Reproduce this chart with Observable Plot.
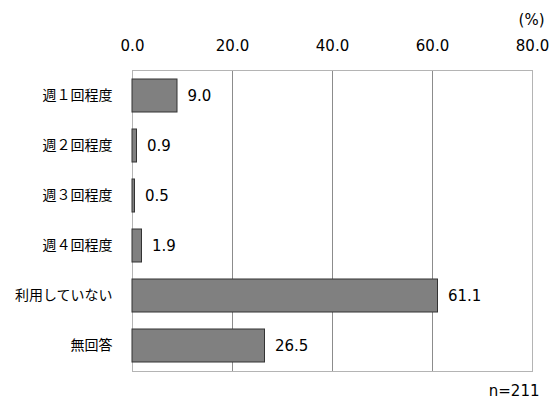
<!DOCTYPE html>
<html><head><meta charset="utf-8">
<script src="https://cdn.jsdelivr.net/npm/d3@7"></script>
<script src="https://cdn.jsdelivr.net/npm/@observablehq/plot@0.6"></script>
<style>body{margin:0;background:#fff}</style>
</head><body><div id="chart"></div>
<script>
const categories = ["週１回程度","週２回程度","週３回程度","週４回程度","利用していない","無回答"];
const values = [9.0, 0.9, 0.5, 1.9, 61.1, 26.5];
const xTicks = [0, 20, 40, 60, 80];
const unitLabel = "(%)";
const nLabel = "n=211";

const data = categories.map((c, i) => ({cat: c, v: values[i]}));
const font = "DejaVu Sans, Verdana, 'Noto Sans CJK JP', sans-serif";
const fmt = d3.format(".1f");

const chart = Plot.plot({
  width: 550, height: 399,
  marginLeft: 132, marginRight: 18, marginTop: 70, marginBottom: 28,
  style: {fontFamily: font, fontSize: "15px", color: "#000", background: "#fff"},
  x: {domain: [0, 80], label: null},
  y: {domain: categories, paddingInner: 0.34, paddingOuter: 0.17, label: null},
  marks: [
    Plot.gridX(xTicks.slice(1, -1), {stroke: "#8c8c8c", strokeOpacity: 1}),
    Plot.frame({stroke: "#b4b4b4"}),
    Plot.axisX(xTicks, {anchor: "top", tickFormat: fmt, tickSize: 0, tickPadding: 20, fontSize: 15, label: null, fill: "#000"}),
    Plot.axisY({tickSize: 0, tickPadding: 20, fontSize: 14, label: null, fill: "#000"}),
    Plot.barX(data, {x: "v", y: "cat", fill: "#808080", stroke: "#333", strokeWidth: 1}),
    Plot.text(data, {x: "v", y: "cat", text: d => fmt(d.v), textAnchor: "start", dx: 10, fontSize: 15, fill: "#000"}),
    Plot.text([unitLabel], {frameAnchor: "top-right", textAnchor: "end", lineAnchor: "middle", dx: 12, dy: -50, fontSize: 15, fill: "#000"}),
    Plot.text([nLabel], {frameAnchor: "bottom-right", textAnchor: "end", lineAnchor: "middle", dx: 7, dy: 20, fontSize: 15, fill: "#000"})
  ]
});
document.getElementById("chart").append(chart);
</script></body></html>
